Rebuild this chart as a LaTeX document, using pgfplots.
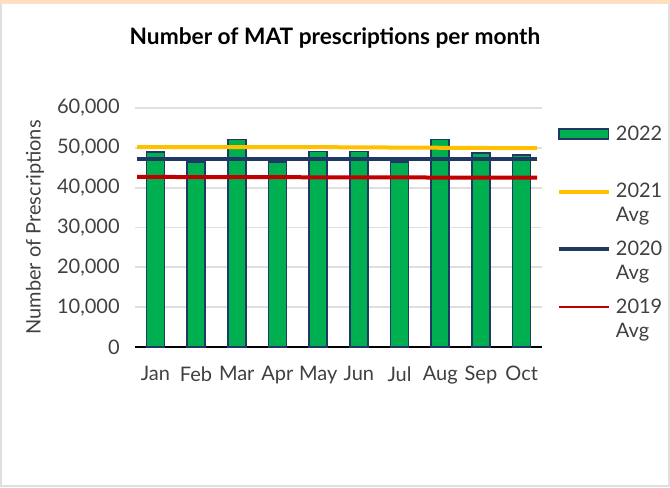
\documentclass[border=0pt]{standalone}
\usepackage{fontspec}
\setmainfont{Lato}
\usepackage{pgfplots}
\pgfplotsset{compat=1.18}
\definecolor{bargreen}{RGB}{0,176,80}
\definecolor{navy}{RGB}{31,56,100}
\definecolor{gold}{RGB}{255,192,0}
\definecolor{darkred}{RGB}{192,0,0}
\definecolor{txt}{RGB}{64,64,64}
\pgfplotsset{
  barleg/.style={legend image code/.code={\draw[##1] (0pt,5pt) rectangle (37pt,12.5pt);}},
  lineleg/.style={legend image code/.code={\draw[##1] (0pt,9pt) -- (37pt,9pt);}},
  thinleg/.style={legend image code/.code={\draw[##1, line width=1.6pt] (0pt,9pt) -- (37pt,9pt);}},
}
\begin{document}
\begin{tikzpicture}
\useasboundingbox (0pt,0pt) rectangle (502.5pt,365.25pt);
\draw[gray!25, line width=1.5pt] (0.75pt,0.75pt) rectangle (501.75pt,364.5pt);
\draw[orange!25, line width=3pt] (0pt,364.1pt) -- (502.5pt,364.1pt);
\node[font=\fontsize{17}{20}\selectfont\bfseries] at (251.25pt,336.75pt) {Number of MAT prescriptions per month};
\begin{axis}[
  at={(101.25pt,105pt)}, anchor=south west, scale only axis,
  width=305.25pt, height=179.25pt,
  xmin=-0.5, xmax=9.5, ymin=0, ymax=60000,
  axis x line*=bottom, axis y line*=left,
  y axis line style={draw=none},
  x axis line style={black, line width=1.2pt},
  xtick={0,...,9},
  xticklabels={Jan,Feb,Mar,Apr,May,Jun,Jul,Aug,Sep,Oct},
  major x tick style={draw=none},
  extra x ticks={-0.5,0.5,...,9.5}, extra x tick labels={},
  extra x tick style={major tick length=5pt, tick align=outside, tick style={black, line width=1pt}},
  ytick={0,10000,...,60000}, scaled y ticks=false,
  ytick style={draw=none},
  ymajorgrids, grid style={gray!25, line width=1.3pt},
  tick label style={font=\fontsize{15}{18}\selectfont, text=txt},
  /pgf/number format/assume math mode=true,
  yticklabel style={xshift=-8pt},
  xticklabel style={yshift=-11pt},
  ylabel={Number of Prescriptions},
  ylabel style={at={(axis description cs:-0.246,0.5)}, anchor=center, font=\fontsize{15}{18}\selectfont, text=txt},
  legend style={at={(axis description cs:1.027,0.95)}, anchor=north west, draw=none, fill=none,
    font=\fontsize{15}{18}\selectfont, text=txt, cells={anchor=west, align=left}, row sep=9pt,
    /tikz/every odd column/.append style={column sep=2pt}},
]
\addplot[ybar, bar width=13.5pt, fill=bargreen, draw=navy, line width=1.2pt, barleg]
  coordinates {(0,49000)(1,46500)(2,52100)(3,46500)(4,49100)(5,49100)(6,46500)(7,52100)(8,48700)(9,48200)};
\addplot[gold, line width=3pt, lineleg]
  coordinates {(-0.45,50200)(3.5,50200)(9.38,49900)};
\addplot[navy, line width=3pt, lineleg]
  coordinates {(-0.45,47150)(9.38,47150)};
\addplot[darkred, line width=3pt, thinleg]
  coordinates {(-0.45,42700)(9.38,42500)};
\legend{{2022\\\strut},{2021\\Avg},{2020\\Avg},{2019\\Avg}}
\end{axis}
\end{tikzpicture}
\end{document}
